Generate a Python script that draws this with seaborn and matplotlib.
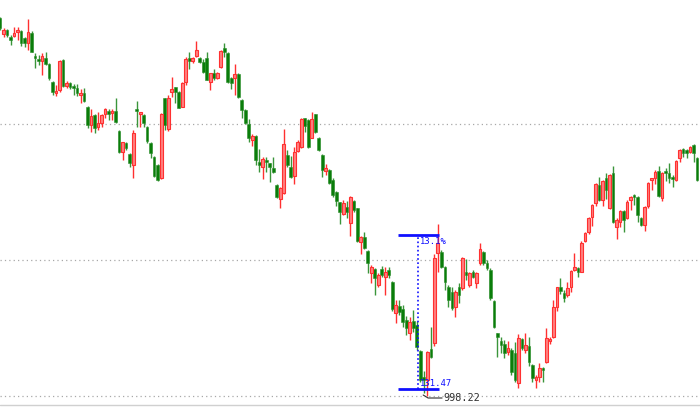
import numpy as np
import pandas as pd
import matplotlib
matplotlib.use("Agg")
import matplotlib.pyplot as plt
import seaborn as sns

# OHLC values (200 bars)
opens = [1376, 1360, 1364, 1357, 1358, 1362, 1363, 1356, 1351, 1361,
         1338, 1335, 1333, 1336, 1330, 1312, 1301, 1304, 1334, 1308,
         1311, 1307, 1306, 1299, 1301, 1287, 1269, 1279, 1267, 1271,
         1280, 1283, 1281, 1283, 1263, 1242, 1251, 1240, 1229, 1285,
         1280, 1279, 1267, 1251, 1237, 1229, 1216, 1296, 1265, 1302,
         1307, 1302, 1287, 1312, 1336, 1333, 1338, 1336, 1332, 1336,
         1312, 1321, 1316, 1327, 1346, 1341, 1316, 1316, 1320, 1294,
         1284, 1270, 1254, 1258, 1232, 1227, 1234, 1231, 1226, 1209,
         1195, 1201, 1239, 1227, 1218, 1243, 1247, 1276, 1274, 1256,
         1280, 1256, 1239, 1223, 1224, 1214, 1202, 1192, 1180, 1187,
         1171, 1193, 1186, 1152, 1157, 1143, 1121, 1125, 1109, 1125,
         1117, 1124, 1112, 1081, 1088, 1085, 1074, 1061, 1073, 1069,
         1043, 1017, 1014, 1045, 1051, 1141, 1142, 1127, 1107, 1102,
         1087, 1107, 1106, 1122, 1109, 1122, 1111, 1131, 1142, 1131,
         1124, 1093, 1061, 1053, 1050, 1042, 1044, 1041, 1011, 1055,
         1044, 1048, 1029, 1014, 1017, 1026, 1032, 1053, 1057, 1087,
         1107, 1101, 1099, 1107, 1124, 1126, 1122, 1153, 1162, 1177,
         1191, 1209, 1194, 1216, 1186, 1221, 1167, 1172, 1183, 1176,
         1194, 1198, 1197, 1176, 1169, 1188, 1214, 1216, 1223, 1196,
         1223, 1221, 1217, 1214, 1236, 1245, 1244, 1242, 1249, 1236]
highs = [1377, 1366, 1365, 1359, 1367, 1367, 1364, 1357, 1375, 1363,
         1341, 1339, 1341, 1342, 1331, 1313, 1309, 1334, 1335, 1313,
         1312, 1310, 1310, 1305, 1306, 1288, 1285, 1280, 1282, 1280,
         1286, 1285, 1285, 1296, 1264, 1252, 1252, 1241, 1264, 1293,
         1282, 1280, 1268, 1252, 1238, 1230, 1281, 1296, 1299, 1317,
         1307, 1303, 1312, 1337, 1342, 1337, 1353, 1337, 1335, 1342,
         1321, 1325, 1322, 1344, 1351, 1342, 1317, 1330, 1321, 1295,
         1285, 1275, 1260, 1259, 1245, 1237, 1237, 1231, 1237, 1210,
         1207, 1265, 1244, 1238, 1247, 1254, 1276, 1276, 1275, 1282,
         1280, 1257, 1240, 1230, 1225, 1216, 1203, 1192, 1194, 1193,
         1198, 1194, 1186, 1158, 1162, 1144, 1129, 1126, 1121, 1128,
         1127, 1127, 1113, 1094, 1094, 1089, 1078, 1077, 1084, 1073,
         1044, 1023, 1043, 1067, 1140, 1170, 1144, 1128, 1109, 1107,
         1104, 1111, 1137, 1135, 1122, 1124, 1122, 1151, 1143, 1134,
         1126, 1094, 1061, 1057, 1054, 1053, 1046, 1052, 1060, 1056,
         1061, 1057, 1030, 1019, 1031, 1027, 1066, 1057, 1094, 1107,
         1116, 1104, 1112, 1124, 1141, 1127, 1153, 1162, 1177, 1190,
         1211, 1217, 1214, 1221, 1220, 1228, 1176, 1184, 1184, 1194,
         1198, 1200, 1198, 1177, 1188, 1212, 1216, 1224, 1228, 1222,
         1226, 1231, 1219, 1234, 1245, 1246, 1245, 1248, 1250, 1237]
lows = [1364, 1357, 1357, 1349, 1357, 1354, 1348, 1347, 1344, 1342,
        1326, 1329, 1319, 1329, 1314, 1299, 1298, 1302, 1307, 1306,
        1305, 1299, 1298, 1291, 1292, 1266, 1262, 1261, 1264, 1267,
        1276, 1274, 1274, 1271, 1241, 1234, 1244, 1227, 1216, 1267,
        1267, 1267, 1251, 1236, 1217, 1213, 1215, 1264, 1263, 1297,
        1291, 1286, 1287, 1309, 1325, 1331, 1337, 1331, 1321, 1314,
        1304, 1314, 1315, 1326, 1337, 1311, 1305, 1299, 1296, 1276,
        1270, 1252, 1248, 1229, 1222, 1215, 1222, 1212, 1221, 1196,
        1186, 1200, 1227, 1216, 1210, 1242, 1246, 1262, 1246, 1256,
        1261, 1243, 1217, 1219, 1210, 1197, 1188, 1170, 1179, 1176,
        1158, 1182, 1152, 1140, 1145, 1121, 1111, 1099, 1107, 1117,
        1099, 1116, 1083, 1071, 1079, 1067, 1059, 1054, 1062, 1044,
        1012, 1001, 998, 1036, 1048, 1122, 1126, 1104, 1087, 1084,
        1077, 1091, 1104, 1114, 1107, 1116, 1106, 1129, 1129, 1124,
        1094, 1066, 1037, 1041, 1036, 1039, 1019, 1012, 1006, 1044,
        1041, 1028, 1012, 1006, 1012, 1012, 1031, 1050, 1056, 1083,
        1100, 1092, 1097, 1102, 1123, 1117, 1122, 1152, 1160, 1168,
        1188, 1193, 1188, 1195, 1185, 1171, 1155, 1167, 1162, 1175,
        1184, 1189, 1172, 1168, 1163, 1186, 1204, 1210, 1197, 1193,
        1213, 1211, 1207, 1213, 1232, 1237, 1236, 1241, 1232, 1213]
closes = [1366, 1364, 1359, 1354, 1361, 1363, 1351, 1351, 1362, 1342,
          1336, 1333, 1338, 1330, 1316, 1302, 1302, 1333, 1308, 1311,
          1307, 1306, 1301, 1301, 1293, 1269, 1278, 1266, 1271, 1279,
          1285, 1280, 1283, 1272, 1242, 1252, 1246, 1231, 1261, 1283,
          1281, 1271, 1253, 1241, 1218, 1214, 1280, 1269, 1296, 1305,
          1302, 1286, 1311, 1335, 1333, 1336, 1344, 1332, 1322, 1314,
          1321, 1316, 1321, 1343, 1342, 1312, 1311, 1320, 1297, 1284,
          1271, 1256, 1258, 1234, 1229, 1235, 1232, 1227, 1222, 1197,
          1206, 1250, 1229, 1217, 1242, 1252, 1275, 1268, 1247, 1275,
          1262, 1244, 1224, 1226, 1211, 1199, 1193, 1182, 1191, 1182,
          1197, 1184, 1153, 1157, 1146, 1131, 1127, 1116, 1119, 1119,
          1122, 1119, 1085, 1089, 1082, 1072, 1066, 1072, 1066, 1047,
          1014, 1014, 1042, 1037, 1136, 1151, 1127, 1112, 1094, 1086,
          1102, 1099, 1136, 1119, 1121, 1117, 1121, 1145, 1131, 1126,
          1096, 1067, 1057, 1049, 1041, 1046, 1022, 1014, 1056, 1046,
          1049, 1032, 1016, 1017, 1026, 1024, 1056, 1055, 1087, 1107,
          1103, 1096, 1106, 1123, 1127, 1122, 1151, 1161, 1176, 1189,
          1210, 1194, 1213, 1204, 1219, 1172, 1174, 1183, 1174, 1192,
          1197, 1197, 1179, 1169, 1187, 1211, 1215, 1222, 1198, 1221,
          1221, 1216, 1215, 1233, 1244, 1241, 1241, 1247, 1241, 1214]

# horizontal grid levels and the measuring tool
grid_levels = [1270, 1134, 998]
measure_top, measure_bottom = 1159, 1005
measure_x = (113.6, 125.3)
measure_mid = 119.4
pct_label = "13.1%"
diff_label = "131.47"
low_label = "998.22"

df = pd.DataFrame({"open": opens, "high": highs, "low": lows, "close": closes})
df["idx"] = np.arange(len(df))
df["up"] = df["close"] >= df["open"]
df["bottom"] = df[["open", "close"]].min(axis=1)
df["height"] = (df["close"] - df["open"]).abs().clip(lower=1.5)

sns.set_style("white")

fig = plt.figure(figsize=(7, 4.08), dpi=100)
ax = fig.add_axes([0, 0, 1, 1])

for lvl in grid_levels:
    ax.axhline(lvl, color="#a8a8a8", lw=0.9, ls=(0, (1, 2.5)), zorder=0)
ax.axhline(989, color="#d0d0d0", lw=1, zorder=0)

up = df[df["up"]]
dn = df[~df["up"]]

ax.vlines(dn["idx"], dn["low"], dn["high"], color="#3a953a", lw=1.0, zorder=2)
ax.bar(dn["idx"], dn["height"], bottom=dn["bottom"], width=0.78,
       color="#0a7d0a", edgecolor="#2b8f2b", linewidth=0.4, zorder=3)

ax.vlines(up["idx"], up["low"], up["high"], color="#ff3030", lw=1.0, zorder=2)
ax.bar(up["idx"], up["height"], bottom=up["bottom"], width=0.8,
       color="#ff8080", edgecolor="#ff3030", linewidth=0.8, zorder=3)

# measuring tool
blue = "#1010ff"
ax.hlines([measure_top, measure_bottom], measure_x[0], measure_x[1],
          color=blue, lw=2, zorder=5)
ax.vlines(measure_mid, measure_bottom, measure_top, color=blue, lw=1.2,
          ls=(0, (1, 1.5)), zorder=5)
ax.text(119.9, 1152, pct_label, color=blue, fontsize=6.4,
        family="DejaVu Sans Mono", va="center", ha="left", zorder=6)
ax.text(119.9, 1010, diff_label, color=blue, fontsize=6.4,
        family="DejaVu Sans Mono", va="center", ha="left", zorder=6)

# low marker
ax.plot([120.8, 122.2, 126.2], [999, 996, 996], color="#303030", lw=0.8, zorder=6)
ax.text(126.5, 996, low_label, color="#303030", fontsize=7.3,
        family="DejaVu Sans Mono", va="center", ha="left", zorder=6)

ax.set_xlim(0, 199.83)
ax.set_ylim(986, 1394)
ax.axis("off")

fig.savefig("out.png", dpi=100)
